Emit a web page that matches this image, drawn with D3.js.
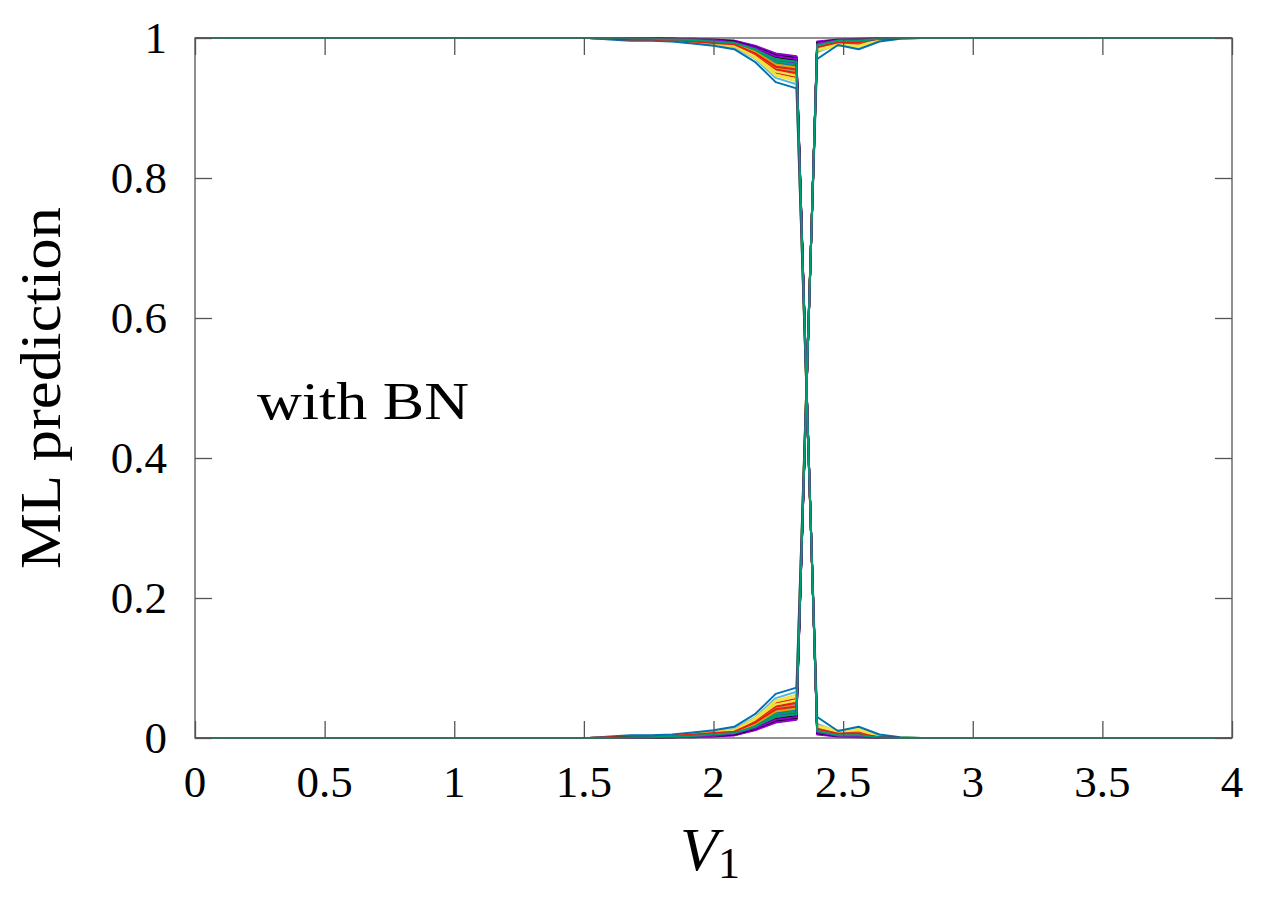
<!DOCTYPE html>
<html lang="en">
<head>
<meta charset="UTF-8">
<title>ML prediction vs V1</title>
<script src="https://d3js.org/d3.v7.min.js"></script>
<style>
  body { margin: 0; background: white; }
  text { font-family: "Liberation Serif", "Times New Roman", serif; fill: black; }
</style>
</head>
<body>
<div id="chart"></div>
<script>
// V1 grid (0 to 4, step 0.08)
const xValues = [0,0.08,0.16,0.24,0.32,0.4,0.48,0.56,0.64,0.72,0.8,0.88,0.96,1.04,1.12,1.2,1.28,1.36,1.44,1.52,
  1.6,1.68,1.76,1.84,1.92,2,2.08,2.16,2.24,2.32,2.4,2.48,2.56,2.64,2.72,2.8,2.88,2.96,3.04,3.12,
  3.2,3.28,3.36,3.44,3.52,3.6,3.68,3.76,3.84,3.92,4];

// minority-class output left of the jump, V1 = 1.60 ... 2.32
const leftTail = [
  [0,0,0,0.001,0.001,0.002,0.004,0.011,0.022,0.026],
  [0,0.001,0.001,0.002,0.003,0.005,0.007,0.016,0.030,0.033],
  [0.001,0.003,0.003,0.004,0.007,0.010,0.013,0.029,0.057,0.066],
  [0.001,0.002,0.002,0.003,0.005,0.008,0.010,0.024,0.046,0.052],
  [0.001,0.003,0.003,0.004,0.006,0.009,0.012,0.028,0.054,0.062],
  [0,0.001,0.001,0.002,0.003,0.005,0.008,0.018,0.033,0.036],
  [0.001,0.002,0.002,0.003,0.006,0.008,0.011,0.027,0.050,0.056],
  [0,0,0,0.001,0.002,0.003,0.005,0.013,0.024,0.028],
  [0,0,0.001,0.001,0.001,0.002,0.004,0.012,0.023,0.027],
  [0,0.001,0.001,0.002,0.004,0.006,0.009,0.020,0.036,0.040],
  [0.001,0.002,0.002,0.003,0.005,0.007,0.010,0.023,0.043,0.048],
  [0.001,0.002,0.002,0.003,0.005,0.007,0.009,0.022,0.042,0.046],
  [0.001,0.002,0.003,0.004,0.006,0.009,0.011,0.028,0.052,0.059],
  [0,0.001,0.001,0.002,0.004,0.006,0.008,0.019,0.035,0.039],
  [0.001,0.002,0.002,0.003,0.005,0.008,0.010,0.025,0.045,0.050],
  [0,0,0.001,0.001,0.002,0.003,0.005,0.013,0.025,0.029],
  [0,0.001,0.001,0.002,0.003,0.005,0.007,0.017,0.032,0.035],
  [0,0.001,0.001,0.002,0.003,0.005,0.008,0.018,0.034,0.038],
  [0.001,0.001,0.002,0.003,0.004,0.006,0.009,0.021,0.039,0.043],
  [0,0.001,0.002,0.002,0.004,0.006,0.009,0.020,0.038,0.042],
  [0.001,0.002,0.002,0.003,0.006,0.008,0.011,0.026,0.048,0.054],
  [0.002,0.004,0.004,0.005,0.008,0.011,0.016,0.034,0.063,0.072],
  [0.001,0.002,0.002,0.003,0.005,0.007,0.009,0.022,0.041,0.045],
  [0,0.001,0.001,0.001,0.002,0.004,0.006,0.014,0.027,0.031],
  [0,0,0.001,0.001,0.002,0.003,0.006,0.014,0.026,0.030],
  [0,0.001,0.001,0.002,0.003,0.005,0.007,0.016,0.031,0.034]
];

// minority-class output right of the jump, V1 = 2.40 ... 2.72
const rightTail = [
  [0.005,0.002,0.001,0,0],
  [0.010,0.004,0.004,0.001,0],
  [0.020,0.009,0.010,0.003,0.001],
  [0.015,0.006,0.008,0.002,0],
  [0.018,0.011,0.013,0.003,0.001],
  [0.011,0.005,0.005,0.001,0],
  [0.016,0.007,0.008,0.002,0],
  [0.007,0.003,0.002,0.001,0],
  [0.006,0.002,0.002,0,0],
  [0.012,0.005,0.006,0.001,0],
  [0.014,0.006,0.007,0.002,0],
  [0.013,0.006,0.006,0.002,0],
  [0.017,0.010,0.012,0.003,0.001],
  [0.011,0.005,0.005,0.001,0],
  [0.015,0.007,0.007,0.002,0],
  [0.007,0.003,0.003,0.001,0],
  [0.010,0.004,0.004,0.001,0],
  [0.011,0.005,0.005,0.001,0],
  [0.013,0.006,0.006,0.001,0],
  [0.012,0.005,0.006,0.001,0],
  [0.016,0.009,0.011,0.002,0],
  [0.030,0.010,0.016,0.005,0.001],
  [0.013,0.006,0.006,0.001,0],
  [0.008,0.003,0.003,0.001,0],
  [0.008,0.003,0.003,0.001,0],
  [0.010,0.004,0.004,0.001,0]
];

const xTicks = [0,0.5,1,1.5,2,2.5,3,3.5,4];
const yTicks = [0,0.2,0.4,0.6,0.8,1];
const colors = ["#9400d3","#009e73","#56b4e9","#e69f00","#f0e442","#0072b2","#e51e10","#000000"];

const W = 1262, H = 899;
const mLeft = 195, mRight = 1232, mTop = 38, mBottom = 738;

const svg = d3.select("#chart").append("svg")
  .attr("width", W).attr("height", H);

const x = d3.scaleLinear().domain([0,4]).range([mLeft,mRight]);
const y = d3.scaleLinear().domain([0,1]).range([mBottom,mTop]);

// build the two output curves of each run
const LEFT_START = 20, RIGHT_START = 30;
function runCurves(i) {
  const low = xValues.map(() => 0);
  leftTail[i].forEach((v,k) => low[LEFT_START+k] = v);
  rightTail[i].forEach((v,k) => low[RIGHT_START+k] = v);
  const a = low.map((v,j) => j < RIGHT_START ? 1 - v : v);
  const b = low.map((v,j) => j < RIGHT_START ? v : 1 - v);
  return [a,b];
}

const line = d3.line().x((d,j) => x(xValues[j])).y(d => y(d));

const plot = svg.append("g");
leftTail.forEach((_,i) => {
  runCurves(i).forEach(c => {
    plot.append("path").datum(c)
      .attr("d", line)
      .attr("fill","none")
      .attr("stroke", colors[i % colors.length])
      .attr("stroke-width", 2)
      .attr("stroke-linejoin","round");
  });
});

// frame and inward ticks on all four sides
const tickLen = 17;
const axisColor = "#555";
svg.append("g").attr("transform","translate(0,"+mBottom+")")
  .call(d3.axisBottom(x).tickValues(xTicks).tickSizeInner(-tickLen).tickSizeOuter(0).tickFormat(""))
  .call(g => g.select(".domain").remove());
svg.append("g").attr("transform","translate(0,"+mTop+")")
  .call(d3.axisTop(x).tickValues(xTicks).tickSizeInner(-tickLen).tickSizeOuter(0).tickFormat(""))
  .call(g => g.select(".domain").remove());
svg.append("g").attr("transform","translate("+mLeft+",0)")
  .call(d3.axisLeft(y).tickValues(yTicks).tickSizeInner(-tickLen).tickSizeOuter(0).tickFormat(""))
  .call(g => g.select(".domain").remove());
svg.append("g").attr("transform","translate("+mRight+",0)")
  .call(d3.axisRight(y).tickValues(yTicks).tickSizeInner(-tickLen).tickSizeOuter(0).tickFormat(""))
  .call(g => g.select(".domain").remove());
svg.selectAll(".tick line").attr("stroke", axisColor).attr("stroke-width", 1.3);

svg.append("rect")
  .attr("x", mLeft).attr("y", mTop)
  .attr("width", mRight-mLeft).attr("height", mBottom-mTop)
  .attr("fill","none").attr("stroke", axisColor).attr("stroke-width", 1.3);

// tick labels
svg.append("g").selectAll("text").data(xTicks).join("text")
  .attr("x", d => x(d)).attr("y", mBottom + 59)
  .attr("text-anchor","middle")
  .style("font-size","45px")
  .text(d => d);
svg.append("g").selectAll("text").data(yTicks).join("text")
  .attr("x", mLeft - 28).attr("y", d => y(d) + 15)
  .attr("text-anchor","end")
  .style("font-size","45px")
  .text(d => d);

// axis titles
const xl = svg.append("text")
  .attr("x", 710).attr("y", 870)
  .attr("text-anchor","middle")
  .style("font-size","62px");
xl.append("tspan").style("font-style","italic").text("V");
xl.append("tspan").attr("dy", 8).style("font-size","44px").text("1");

svg.append("text")
  .attr("transform","translate(60,388) rotate(-90)")
  .attr("text-anchor","middle")
  .attr("textLength", 362).attr("lengthAdjust","spacingAndGlyphs")
  .style("font-size","58px")
  .text("ML prediction");

svg.append("text")
  .attr("x", 257).attr("y", 419)
  .attr("textLength", 212).attr("lengthAdjust","spacingAndGlyphs")
  .style("font-size","52px")
  .text("with BN");
</script>
</body>
</html>
